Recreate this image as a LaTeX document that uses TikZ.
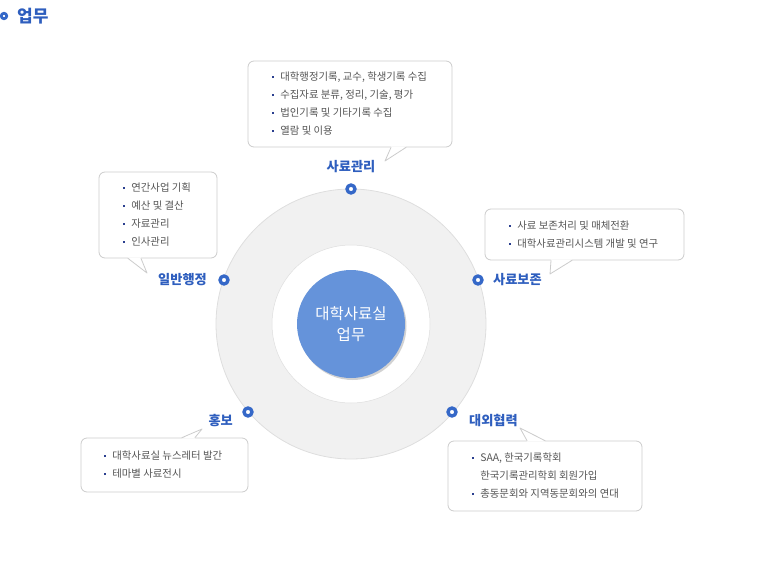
\documentclass[tikz,border=0pt]{standalone}
\usepackage{fontspec}
\setmainfont{Noto Sans CJK KR}
\usetikzlibrary{calc,shadows}

\definecolor{ringfill}{HTML}{F1F1F1}
\definecolor{ringline}{HTML}{DEDEDE}
\definecolor{coreblue}{HTML}{6593DA}
\definecolor{dotblue}{HTML}{3568C8}
\definecolor{lblblue}{HTML}{2E5EBE}
\definecolor{boxline}{HTML}{CCCCCC}
\definecolor{itemgray}{HTML}{555555}
\definecolor{bulnavy}{HTML}{2B3F8F}

\newcommand{\itm}{\makebox[8.5pt][l]{\textcolor{bulnavy}{\raisebox{2.8pt}{\rule{1.8pt}{1.8pt}}}}}

\begin{document}
\begin{tikzpicture}[x=1pt,y=-1pt,line cap=round,line join=round,
  bubble/.style={draw=boxline,line width=0.8pt,fill=white,rounded corners=6pt,inner sep=0pt},
  items/.style={anchor=west,align=left,inner sep=0pt,text=itemgray,font=\fontsize{10.4}{18}\selectfont},
  tail/.style={draw=boxline,line width=0.8pt},
  dot/.style={circle,draw=dotblue,line width=3.4pt,fill=white,minimum size=8pt,inner sep=0pt},
  lbl/.style={inner sep=0pt,text=lblblue,font=\fontsize{13.2}{15}\selectfont\bfseries}]
\useasboundingbox (0,0) rectangle (764,568);

% title
\node[dot,minimum size=5.5pt,line width=2.8pt] (tdot) at (4,16) {};
\node[anchor=west,inner sep=0pt,text=lblblue,font=\fontsize{17}{19}\selectfont\bfseries] (title) at (17,16) {업무};

% rings
\node[circle,fill=ringfill,draw=ringline,line width=0.8pt,minimum size=270pt,inner sep=0pt] (ring) at (351,324) {};
\node[circle,fill=white,draw=ringline,line width=0.5pt,minimum size=158pt,inner sep=0pt] (hole) at (351,324) {};
\node[circle,fill=coreblue,minimum size=108pt,inner sep=0pt,align=center,text=white,
  font=\fontsize{15.5}{21}\selectfont,
  drop shadow={shadow xshift=1.5pt,shadow yshift=-2pt,opacity=0.35}] (core) at (351,324) {대학사료실\\업무};

% dots on the ring
\node[dot] (dTop) at (351,189) {};
\node[dot] (dLeft) at (224,280) {};
\node[dot] (dRight) at (478,280) {};
\node[dot] (dBL) at (248,412) {};
\node[dot] (dBR) at (452,412) {};

\node[lbl,above=16pt] (tTop) at (dTop) {사료관리};
\node[lbl,left=17pt] (tLeft) at (dLeft) {일반행정};
\node[lbl,right=15pt] (tRight) at (dRight) {사료보존};
\node[lbl,left=15pt,yshift=-9pt] (tBL) at (dBL) {홍보};
\node[lbl,right=17pt,yshift=-9pt] (tBR) at (dBR) {대외협력};

% bubbles
\node[bubble,minimum width=204pt,minimum height=86pt] (bxA) at (350,104) {};
\coordinate (tipA) at (385,161);
\fill[white] ([xshift=41pt,yshift=1pt]bxA.south) -- (tipA) -- ([xshift=56pt,yshift=1pt]bxA.south) -- cycle;
\draw[tail] ([xshift=41pt]bxA.south) -- (tipA) -- ([xshift=56pt]bxA.south);
\node[items] (txA) at ([xshift=24pt]bxA.west) {\itm 대학행정기록, 교수, 학생기록 수집\\\itm 수집자료 분류, 정리, 기술, 평가\\\itm 법인기록 및 기타기록 수집\\\itm 열람 및 이용};

\node[bubble,minimum width=118pt,minimum height=86pt] (bxB) at (158,215) {};
\coordinate (tipB) at (147,273);
\fill[white] ([xshift=-30pt,yshift=1pt]bxB.south) -- (tipB) -- ([xshift=-17pt,yshift=1pt]bxB.south) -- cycle;
\draw[tail] ([xshift=-30pt]bxB.south) -- (tipB) -- ([xshift=-17pt]bxB.south);
\node[items] (txB) at ([xshift=24pt]bxB.west) {\itm 연간사업 기획\\\itm 예산 및 결산\\\itm 자료관리\\\itm 인사관리};

\node[bubble,minimum width=199pt,minimum height=51pt] (bxC) at (584.5,234.5) {};
\coordinate (tipC) at (550,274);
\fill[white] ([xshift=-33.5pt,yshift=1pt]bxC.south) -- (tipC) -- ([xshift=-12.5pt,yshift=1pt]bxC.south) -- cycle;
\draw[tail] ([xshift=-33.5pt]bxC.south) -- (tipC) -- ([xshift=-12.5pt]bxC.south);
\node[items] (txC) at ([xshift=24pt]bxC.west) {\itm 사료 보존처리 및 매체전환\\\itm 대학사료관리시스템 개발 및 연구};

\node[bubble,minimum width=167pt,minimum height=54pt] (bxD) at (164.5,465) {};
\coordinate (tipD) at (202,429);
\fill[white] ([xshift=17.5pt,yshift=-1pt]bxD.north) -- (tipD) -- ([xshift=30.5pt,yshift=-1pt]bxD.north) -- cycle;
\draw[tail] ([xshift=17.5pt]bxD.north) -- (tipD) -- ([xshift=30.5pt]bxD.north);
\node[items] (txD) at ([xshift=23pt]bxD.west) {\itm 대학사료실 뉴스레터 발간\\\itm 테마별 사료전시};

\node[bubble,minimum width=194pt,minimum height=70pt] (bxE) at (545,476) {};
\coordinate (tipE) at (520,428);
\fill[white] ([xshift=-18pt,yshift=-1pt]bxE.north) -- (tipE) -- ([xshift=0pt,yshift=-1pt]bxE.north) -- cycle;
\draw[tail] ([xshift=-18pt]bxE.north) -- (tipE) -- ([xshift=0pt]bxE.north);
\node[items] (txE) at ([xshift=24pt]bxE.west) {\itm SAA, 한국기록학회\\\hspace*{8.5pt}한국기록관리학회 회원가입\\\itm 총동문회와 지역동문회와의 연대};
\end{tikzpicture}
\end{document}
